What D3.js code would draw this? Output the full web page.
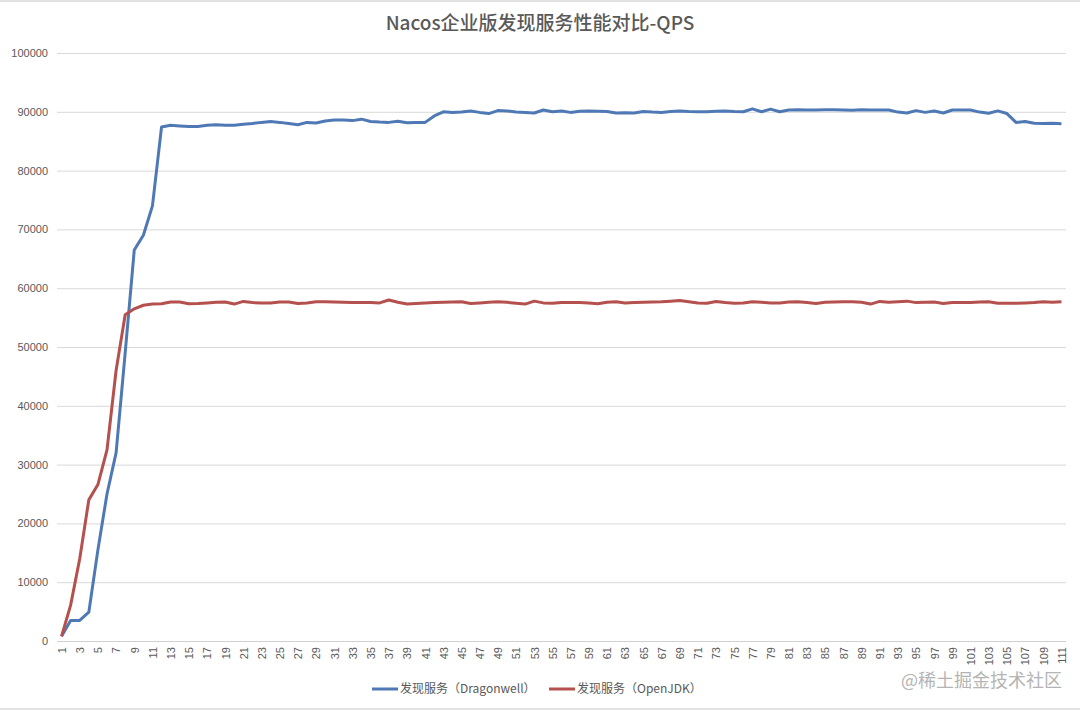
<!DOCTYPE html>
<html lang="zh">
<head>
  <meta charset="UTF-8">
  <title>Nacos企业版发现服务性能对比-QPS</title>
  <script src="https://cdn.jsdelivr.net/npm/d3@7"></script>
  <style>
    body { margin: 0; background: #fff; }
    svg { display: block; font-family: "Noto Sans CJK SC", "Noto Sans", sans-serif; }
    .grid line { stroke: #d9d9d9; }
    .grid .domain { display: none; }
    .tick text { fill: #595959; font-size: 11px; }
  </style>
</head>
<body>
<svg id="chart" width="1080" height="710"></svg>
<script>
  // Series values (QPS per sample point)
  const dragonwell = [
    800, 3500, 3500, 4900, 15500, 25000, 32000, 49000, 66500, 69000,
    74000, 87400, 87700, 87600, 87500, 87500, 87700, 87800, 87700, 87700,
    87900, 88000, 88200, 88350, 88200, 88000, 87800, 88200, 88100, 88450,
    88600, 88600, 88500, 88750, 88350, 88250, 88200, 88400, 88150, 88200,
    88200, 89300, 90000, 89900, 89950, 90150, 89900, 89700, 90200, 90150,
    89950, 89900, 89800, 90300, 90000, 90150, 89900, 90100, 90150, 90100,
    90050, 89800, 89850, 89800, 90050, 89950, 89900, 90050, 90150, 90050,
    90000, 90000, 90100, 90150, 90050, 90000, 90500, 90000, 90450, 90000,
    90300, 90350, 90300, 90300, 90350, 90350, 90300, 90280, 90350, 90300,
    90300, 90300, 89950, 89800, 90200, 89900, 90150, 89800, 90300, 90300,
    90300, 89950, 89750, 90150, 89700, 88200, 88350, 88050, 88000, 88050,
    87950
  ];
  const openjdk = [
    800, 6100, 14000, 24000, 26600, 32500, 46000, 55500, 56500, 57100,
    57300, 57350, 57650, 57650, 57350, 57400, 57500, 57600, 57650, 57300,
    57750, 57550, 57500, 57500, 57650, 57650, 57400, 57500, 57700, 57700,
    57650, 57600, 57550, 57550, 57550, 57500, 58000, 57600, 57300, 57400,
    57500, 57550, 57600, 57650, 57700, 57400, 57500, 57600, 57700, 57600,
    57450, 57300, 57800, 57500, 57450, 57550, 57550, 57550, 57500, 57350,
    57600, 57700, 57500, 57550, 57600, 57650, 57700, 57800, 57900, 57700,
    57500, 57450, 57750, 57550, 57450, 57500, 57700, 57600, 57500, 57500,
    57650, 57700, 57550, 57400, 57600, 57650, 57700, 57700, 57600, 57300,
    57750, 57600, 57700, 57800, 57550, 57600, 57650, 57400, 57550, 57550,
    57560, 57650, 57700, 57450, 57450, 57450, 57500, 57550, 57700, 57620,
    57700
  ];
  const categories = d3.range(1, 112);
  const xTickLabels = categories.filter(d => d % 2 === 1);
  const yTicks = d3.range(0, 100001, 10000);
  const seriesNames = ["发现服务（Dragonwell）", "发现服务（OpenJDK）"];
  const title = "Nacos企业版发现服务性能对比-QPS";

  const colors = ["#4f79b4", "#b4504d"];
  const plot = { left: 57, right: 1066, top: 53, bottom: 641 };

  const svg = d3.select("#chart");

  // thin grey frame lines of the screenshot
  svg.append("line").attr("x1", 0).attr("x2", 1080).attr("y1", 1).attr("y2", 1)
     .attr("stroke", "#e2e2e2").attr("stroke-width", 2);
  svg.append("line").attr("x1", 0).attr("x2", 1080).attr("y1", 709).attr("y2", 709)
     .attr("stroke", "#e2e2e2").attr("stroke-width", 2);

  // Scales: category points sit in the middle of each band
  const step = (plot.right - plot.left) / categories.length;
  const x = d3.scaleLinear()
              .domain([1, 111])
              .range([plot.left + step / 2, plot.right - step / 2]);
  const y = d3.scaleLinear()
              .domain([0, 100000])
              .range([plot.bottom, plot.top]);

  // Title
  svg.append("text")
     .attr("x", 540).attr("y", 30)
     .attr("text-anchor", "middle")
     .attr("fill", "#595959")
     .style("font-size", "19px")
     .style("font-weight", 500)
     .text(title);

  // Y gridlines + labels
  const yAxis = svg.append("g")
     .attr("class", "grid")
     .attr("transform", `translate(${plot.left},0)`)
     .call(d3.axisLeft(y)
             .tickValues(yTicks)
             .tickFormat(d3.format("d"))
             .tickSize(-(plot.right - plot.left))
             .tickPadding(9));
  yAxis.selectAll(".tick line").attr("stroke", "#d9d9d9");

  // X axis with rotated labels
  const xAxis = svg.append("g")
     .attr("transform", `translate(0,${plot.bottom})`)
     .call(d3.axisBottom(x).tickValues(xTickLabels).tickSize(0).tickFormat(d3.format("d")));
  xAxis.select(".domain")
       .attr("d", `M${plot.left},0.5H${plot.right}`)
       .attr("stroke", "#d0d0d0");
  xAxis.selectAll(".tick text")
       .attr("transform", "rotate(-90)")
       .attr("x", -6)
       .attr("y", 0)
       .attr("dy", "0.35em")
       .attr("text-anchor", "end");

  // Lines
  const line = d3.line()
                 .x((d, i) => x(categories[i]))
                 .y(d => y(d));

  [dragonwell, openjdk].forEach((s, i) => {
    svg.append("path")
       .datum(s)
       .attr("fill", "none")
       .attr("stroke", colors[i])
       .attr("stroke-width", 3)
       .attr("stroke-linejoin", "round")
       .attr("d", line);
  });

  // Legend
  const legendX = [372, 549];
  seriesNames.forEach((name, i) => {
    const g = svg.append("g").attr("transform", `translate(${legendX[i]},689)`);
    g.append("line")
     .attr("x1", 0).attr("x2", 26).attr("y1", 0).attr("y2", 0)
     .attr("stroke", colors[i]).attr("stroke-width", 3);
    g.append("text")
     .attr("x", 28).attr("y", 4)
     .attr("fill", "#595959")
     .style("font-size", "12px")
     .text(name);
  });

  // Watermark
  svg.append("text")
     .attr("x", 1062).attr("y", 687)
     .attr("text-anchor", "end")
     .attr("fill", "#b4b4b4")
     .style("font-size", "18px")
     .text("@稀土掘金技术社区");
</script>
</body>
</html>
